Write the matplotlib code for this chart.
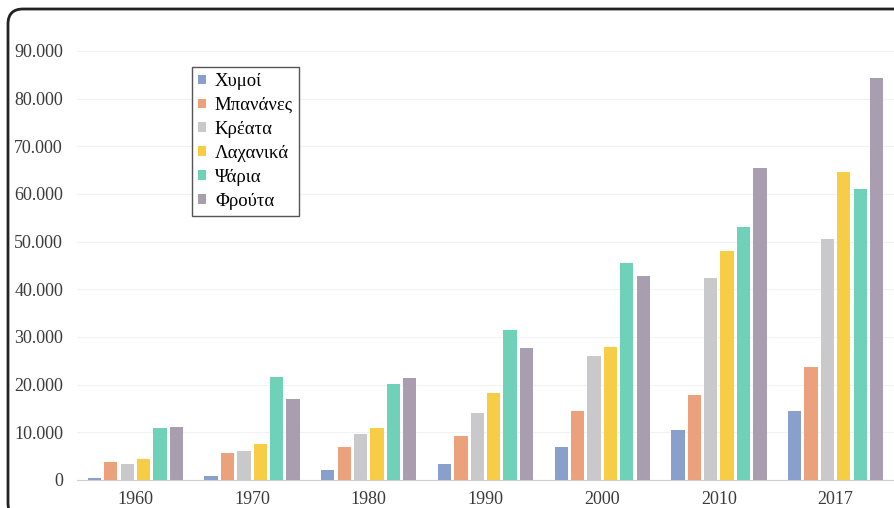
import numpy as np
import matplotlib.pyplot as plt
from matplotlib.patches import FancyBboxPatch
from matplotlib.ticker import FuncFormatter

plt.rcParams['font.family'] = ['Liberation Serif', 'DejaVu Serif']

years = ["1960", "1970", "1980", "1990", "2000", "2010", "2017"]
names = ["Χυμοί", "Μπανάνες", "Κρέατα", "Λαχανικά", "Ψάρια", "Φρούτα"]
colors = ["#8aa0cc", "#eba27c", "#c9c9cc", "#f6cd44", "#6fd1b7", "#a99db0"]

xymoi = [400, 800, 2100, 3400, 6900, 10500, 14500]
bananes = [3700, 5700, 6900, 9300, 14500, 17900, 23600]
kreata = [3300, 6000, 9700, 14000, 26000, 42400, 50500]
laxanika = [4400, 7500, 10900, 18300, 27900, 48000, 64500]
psaria = [11000, 21700, 20200, 31500, 45600, 53100, 61100]
frouta = [11100, 17000, 21300, 27700, 42700, 65500, 84400]
series = [xymoi, bananes, kreata, laxanika, psaria, frouta]

fig = plt.figure(figsize=(8.94, 5.08), dpi=100)
ax = fig.add_axes([77 / 894, 28 / 508, 817 / 894, 453 / 508])

x = np.arange(len(years))
step = 0.1405
width = 0.114
for i, (vals, name, c) in enumerate(zip(series, names, colors)):
    ax.bar(x + (i - 2.5) * step, vals, width, color=c, label=name, zorder=3)

ax.set_xlim(-0.5, 6.5)
ax.set_ylim(0, 95000)
ax.set_yticks(np.arange(0, 90001, 10000))
ax.yaxis.set_major_formatter(FuncFormatter(lambda v, p: f"{int(v):,}".replace(",", ".")))
ax.set_xticks(x)
ax.set_xticklabels(years)
ax.tick_params(axis="both", length=0, labelsize=13, labelcolor="#3a3a3a")
ax.tick_params(axis="y", pad=10)
ax.tick_params(axis="x", pad=8)
ax.grid(axis="y", color="#f2f2f2", linewidth=0.8, zorder=0)
for s in ["top", "right", "left"]:
    ax.spines[s].set_visible(False)
ax.spines["bottom"].set_color("#cfcfcf")

fig.legend(loc="upper left", bbox_to_anchor=(192 / 894, 1 - 67 / 508),
           fontsize=13.5, frameon=True, fancybox=False, edgecolor="#555555",
           handlelength=0.4, handleheight=0.4, handletextpad=0.5,
           labelspacing=0.37, borderpad=0.32, borderaxespad=0, framealpha=1)

# rounded outer frame
frame = FancyBboxPatch((0.08, -0.1), 9.2, 5.09, boxstyle="round,pad=0,rounding_size=0.15",
                       transform=fig.dpi_scale_trans, fill=False,
                       edgecolor="#222222", linewidth=2)
fig.patches.append(frame)

fig.savefig("out.png", dpi=100)
